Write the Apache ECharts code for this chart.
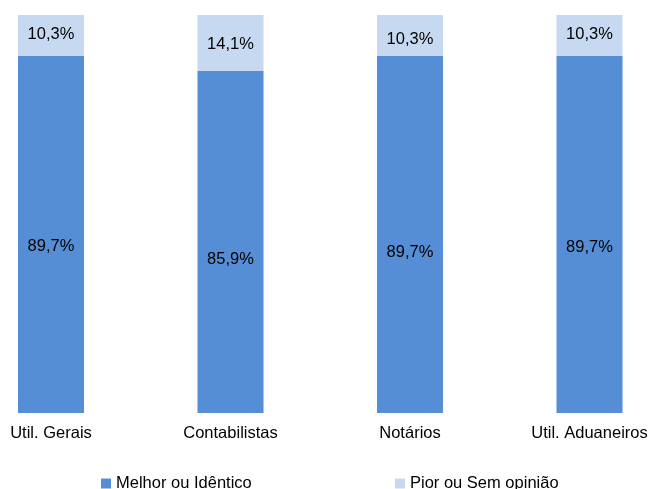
<!DOCTYPE html>
<html>
<head>
<meta charset="utf-8">
<script src="https://cdn.jsdelivr.net/npm/echarts@6/dist/echarts.min.js"></script>
<style>
  html, body { margin: 0; padding: 0; background: #ffffff; }
  #chart { width: 649px; height: 489px; }
</style>
</head>
<body>
<div id="chart"></div>
<script>
// Categories and shares (%) for each answer group
const categories = ['Util. Gerais', 'Contabilistas', 'Notários', 'Util. Aduaneiros'];
const melhorOuIdentico = [89.7, 85.9, 89.7, 89.7];
const piorOuSemOpiniao = [10.3, 14.1, 10.3, 10.3];
const seriesNames = ['Melhor ou Idêntico', 'Pior ou Sem opinião'];

// Vertical nudges of the value labels inside each segment
const lowerLabelShift = [12, 17, 17.5, 12.5];
const upperLabelShift = [-1.5, 1, 4, -1];

const FONT = '"Liberation Sans", Arial, sans-serif';
const FS = 16.5;
const fmt = v => v.toFixed(1).replace('.', ',') + '%';

function withLabels(values, shifts) {
  return values.map((v, i) => ({
    value: v,
    label: { offset: [0, shifts[i]] }
  }));
}

const chart = echarts.init(document.getElementById('chart'), null, { renderer: 'canvas' });

const labelStyle = {
  show: true,
  position: 'inside',
  color: '#000000',
  fontFamily: FONT,
  fontSize: FS,
  formatter: p => fmt(p.value)
};

const legendText = { fontFamily: FONT, fontSize: FS, color: '#000000', lineHeight: 16 };

chart.setOption({
  animation: false,
  backgroundColor: '#ffffff',
  grid: {
    left: -38.75, width: 718, top: 15, height: 398,
    containLabel: false,
    outerBoundsMode: 'none'
  },
  legend: [
    {
      data: [seriesNames[0]],
      left: 101, top: 475, padding: 0,
      itemWidth: 10, itemHeight: 10, icon: 'rect',
      textStyle: legendText
    },
    {
      data: [seriesNames[1]],
      left: 395, top: 475, padding: 0,
      itemWidth: 10, itemHeight: 10, icon: 'rect',
      textStyle: legendText
    }
  ],
  xAxis: {
    type: 'category',
    data: categories,
    axisLine: { show: false },
    axisTick: { show: false },
    axisLabel: { color: '#000000', fontFamily: FONT, fontSize: FS, margin: 12, interval: 0, lineHeight: 16 }
  },
  yAxis: {
    type: 'value',
    min: 0, max: 100,
    show: false,
    splitLine: { show: false }
  },
  series: [
    {
      name: seriesNames[0],
      type: 'bar',
      stack: 'total',
      barWidth: 66,
      itemStyle: { color: '#558ED5' },
      label: labelStyle,
      data: withLabels(melhorOuIdentico, lowerLabelShift)
    },
    {
      name: seriesNames[1],
      type: 'bar',
      stack: 'total',
      barWidth: 66,
      itemStyle: { color: '#C6D9F1' },
      label: labelStyle,
      data: withLabels(piorOuSemOpiniao, upperLabelShift)
    }
  ]
});
</script>
</body>
</html>
